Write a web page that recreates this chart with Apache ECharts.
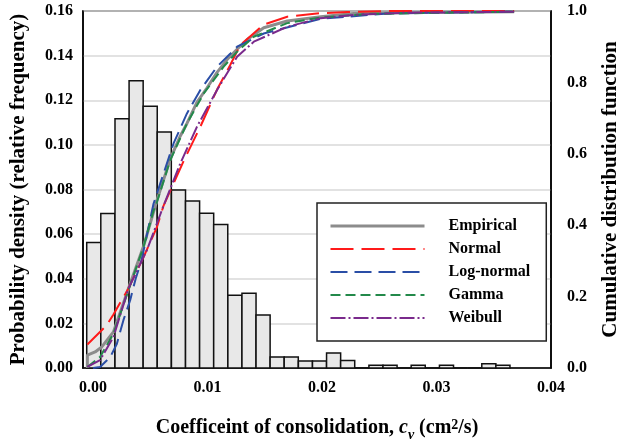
<!DOCTYPE html>
<html>
<head>
<meta charset="utf-8">
<script src="https://cdn.jsdelivr.net/npm/echarts@6/dist/echarts.min.js"></script>
<style>
  html, body { margin: 0; padding: 0; background: #fff; }
  #chart { width: 618px; height: 444px; }
</style>
</head>
<body>
<div id="chart"></div>
<script>
// histogram: bin centres and relative frequency
const binWidth = 0.00123
const binCenters = [0.00006, 0.00129, 0.00253, 0.00376, 0.00499, 0.00622, 0.00746, 0.00869, 0.00992, 0.01115,
  0.01239, 0.01362, 0.01485, 0.01608, 0.01731, 0.01855, 0.01978, 0.02101, 0.02224, 0.02348,
  0.02471, 0.02594, 0.02717, 0.0284, 0.02964, 0.03087, 0.0321, 0.03333, 0.03457, 0.0358]
const density = [0.0562, 0.0692, 0.1117, 0.1287, 0.1173, 0.1058, 0.0798, 0.0749, 0.0694, 0.0643,
  0.0326, 0.0335, 0.0238, 0.0049, 0.0049, 0.0031, 0.0031, 0.0067, 0.0034, 0,
  0.0012, 0.0012, 0, 0.0012, 0, 0.0012, 0, 0, 0.0019, 0.0012]

// CDF curves, [cv, F]
const empirical = [[-0.0005, 0], [-0.0005, 0.036], [0.00018, 0.045], [0.00076, 0.059], [0.00178, 0.101],
  [0.00309, 0.223], [0.0044, 0.34], [0.00558, 0.47], [0.00674, 0.585], [0.00762, 0.65], [0.0082, 0.685],
  [0.00908, 0.745], [0.00996, 0.785], [0.01083, 0.828], [0.01171, 0.864], [0.01258, 0.893],
  [0.01346, 0.92], [0.01491, 0.953], [0.01696, 0.972], [0.01988, 0.984], [0.02277, 0.993],
  [0.02863, 0.996], [0.03678, 0.998]]
const normal = [[-0.0005, 0.066], [0.0012, 0.12], [0.00178, 0.15], [0.00309, 0.223], [0.0044, 0.31],
  [0.00558, 0.395], [0.00616, 0.455], [0.00791, 0.58], [0.00937, 0.676], [0.01083, 0.78],
  [0.012, 0.85], [0.01287, 0.905], [0.01491, 0.962], [0.01696, 0.984], [0.01988, 0.994],
  [0.02222, 0.997], [0.02572, 1.0], [0.03678, 1.0]]
const lognormal = [[0, 0], [0.00061, 0.003], [0.00149, 0.03], [0.00208, 0.068], [0.00265, 0.134],
  [0.00324, 0.19], [0.00372, 0.25], [0.00422, 0.3], [0.00528, 0.46], [0.00616, 0.545],
  [0.00703, 0.629], [0.0082, 0.713], [0.00937, 0.779], [0.01083, 0.844], [0.012, 0.881],
  [0.01258, 0.9], [0.01491, 0.937], [0.01988, 0.978], [0.02572, 0.993], [0.03097, 0.996], [0.03678, 0.998]]
const gamma = [[-0.0005, 0.003], [0.00061, 0.031], [0.00178, 0.096], [0.00309, 0.218], [0.0044, 0.339],
  [0.00528, 0.44], [0.00558, 0.465], [0.00674, 0.582], [0.0082, 0.685], [0.00967, 0.769],
  [0.01141, 0.844], [0.01258, 0.886], [0.01404, 0.928], [0.01696, 0.966], [0.01988, 0.982],
  [0.02426, 0.992], [0.03678, 0.998]]
const weibull = [[-0.0005, 0.003], [0.00061, 0.022], [0.00178, 0.087], [0.00309, 0.223], [0.0047, 0.33],
  [0.00587, 0.43], [0.00616, 0.455], [0.00762, 0.573], [0.00908, 0.676], [0.01083, 0.779],
  [0.01258, 0.872], [0.01404, 0.914], [0.01696, 0.956], [0.01988, 0.98], [0.02277, 0.989],
  [0.02718, 0.995], [0.03678, 0.998]]

const xTicks = [0, 0.01, 0.02, 0.03, 0.04]
const font = 'Liberation Serif, Times New Roman, serif'

const chart = echarts.init(document.getElementById('chart'))

const cdfLine = (name, data, color, type, width) => ({
  name: name,
  type: 'line',
  yAxisIndex: 1,
  data: data,
  symbol: 'none',
  z: 3,
  lineStyle: { color: color, type: type, width: width },
  itemStyle: { color: color }
})

chart.setOption({
  animation: false,
  grid: {
    left: 83, right: 67, top: 11, bottom: 76,
    outerBoundsMode: 'none',
    show: true, borderColor: '#000', borderWidth: 1.5
  },
  legend: {
    orient: 'vertical',
    left: 317,
    top: 203,
    padding: [15, 16, 15, 12],
    backgroundColor: '#fff',
    borderColor: '#222',
    borderWidth: 1.5,
    itemWidth: 94,
    itemHeight: 16,
    itemGap: 7,
    itemStyle: { opacity: 0, color: 'rgba(0,0,0,0)', borderWidth: 0 },
    lineStyle: { width: 'inherit' },
    data: ['Empirical', 'Normal', 'Log-normal', 'Gamma', 'Weibull'],
    textStyle: { fontFamily: font, fontWeight: 'bold', fontSize: 16, color: '#000', padding: [0, 0, 0, 19] }
  },
  xAxis: {
    type: 'value',
    min: -0.00088,
    max: 0.04,
    axisLine: { onZero: false, lineStyle: { color: '#000', width: 1.5 } },
    axisTick: { show: false },
    splitLine: { show: false },
    axisLabel: {
      customValues: xTicks,
      formatter: v => v.toFixed(2),
      fontFamily: font, fontWeight: 'bold', fontSize: 16, color: '#000', margin: 12
    },
    name: '{b|Coefficeint of consolidation, }{i|c}{sub|v}{b| (cm}{sup|2}{b|/s)}',
    nameLocation: 'middle',
    nameGap: 50,
    nameTextStyle: {
      rich: {
        b: { fontFamily: font, fontWeight: 'bold', fontSize: 20, color: '#000', verticalAlign: 'top', lineHeight: 24 },
        i: { fontFamily: font, fontWeight: 'bold', fontStyle: 'italic', fontSize: 20, color: '#000', verticalAlign: 'top', lineHeight: 24 },
        sub: { fontFamily: font, fontWeight: 'bold', fontStyle: 'italic', fontSize: 14, color: '#000', verticalAlign: 'top', lineHeight: 14, padding: [10, 0, 0, 0] },
        sup: { fontFamily: font, fontWeight: 'bold', fontSize: 14, color: '#000', verticalAlign: 'top', lineHeight: 14 }
      }
    }
  },
  yAxis: [
    {
      type: 'value',
      min: 0,
      max: 0.16,
      interval: 0.02,
      axisLine: { show: true, onZero: false, lineStyle: { color: '#000', width: 1.5 } },
      axisTick: { show: false },
      splitLine: { lineStyle: { color: '#d9d9d9', width: 1.5 } },
      axisLabel: {
        formatter: v => v.toFixed(2),
        fontFamily: font, fontWeight: 'bold', fontSize: 16, color: '#000', margin: 10
      },
      name: 'Probability density (relative frequency)',
      nameLocation: 'middle',
      nameRotate: 90,
      nameGap: 54,
      nameTextStyle: { fontFamily: font, fontWeight: 'bold', fontSize: 21, color: '#000' }
    },
    {
      type: 'value',
      min: 0,
      max: 1,
      interval: 0.2,
      position: 'right',
      axisLine: { show: true, onZero: false, lineStyle: { color: '#000', width: 1.5 } },
      axisTick: { show: false },
      splitLine: { show: false },
      axisLabel: {
        formatter: v => v.toFixed(1),
        fontFamily: font, fontWeight: 'bold', fontSize: 16, color: '#000', margin: 16
      },
      name: 'Cumulative distribution function',
      nameLocation: 'middle',
      nameRotate: 90,
      nameGap: 49,
      nameTextStyle: { fontFamily: font, fontWeight: 'bold', fontSize: 21, color: '#000' }
    }
  ],
  series: [
    {
      name: 'Histogram',
      type: 'custom',
      z: 1,
      data: binCenters.map((c, i) => [c, density[i]]),
      encode: { x: 0, y: 1 },
      renderItem: (params, api) => {
        const c = api.value(0)
        const p0 = api.coord([c - binWidth / 2, 0])
        const p1 = api.coord([c + binWidth / 2, api.value(1)])
        return {
          type: 'rect',
          shape: { x: p0[0], y: p1[1], width: p1[0] - p0[0], height: p0[1] - p1[1] },
          style: { fill: '#e8e8e8', stroke: '#111', lineWidth: 1.5 }
        }
      }
    },
    cdfLine('Empirical', empirical, '#8c8c8c', 'solid', 3),
    cdfLine('Normal', normal, '#ff1a1a', [23, 8], 2),
    cdfLine('Log-normal', lognormal, '#2a4ea6', [17, 7], 2),
    cdfLine('Gamma', gamma, '#23894a', [10, 5], 2),
    cdfLine('Weibull', weibull, '#7a2a8c', [15, 3, 2, 3], 2)
  ]
})
</script>
</body>
</html>
